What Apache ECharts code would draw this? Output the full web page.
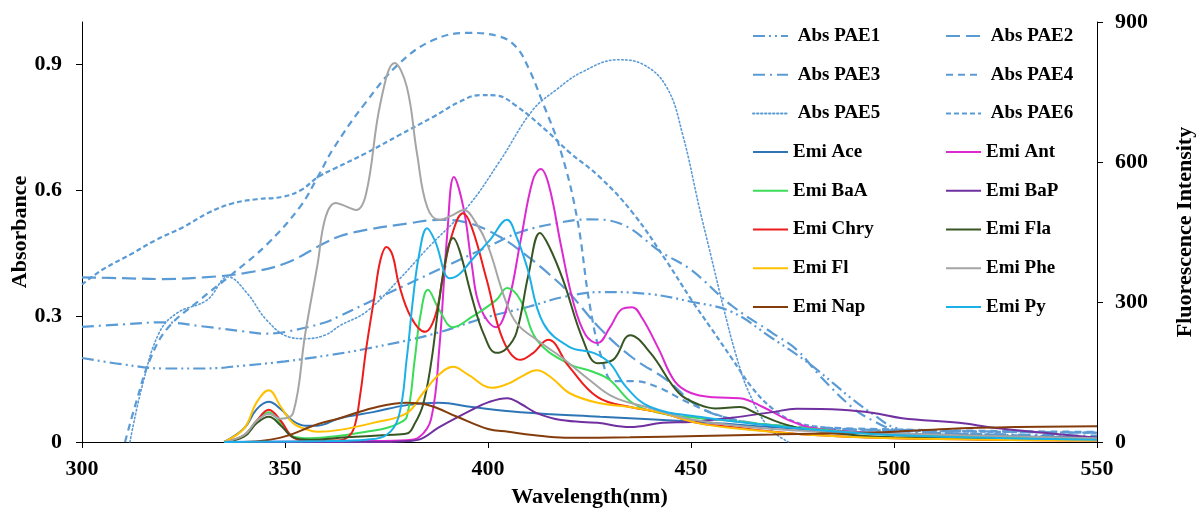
<!DOCTYPE html>
<html>
<head>
<meta charset="utf-8">
<script src="https://cdn.jsdelivr.net/npm/echarts@6/dist/echarts.min.js"></script>
<style>
html, body { margin: 0; padding: 0; background: #fff; }
#chart { width: 1202px; height: 513px; }
</style>
</head>
<body>
<div id="chart"></div>
<script>
// wavelength (nm) / absorbance pairs
var absPAE1 = [[300,0.20],[310,0.185],[320,0.175],[330,0.175],[340,0.182],[350,0.192],[361,0.207],[370,0.222],[385.7,0.255],[400,0.298],[410,0.322],[418.5,0.345],[428,0.357],[440,0.352],[450,0.334],[460,0.31],[470,0.247],[475,0.215],[480,0.18],[485,0.14],[490,0.10],[495,0.065],[500,0.035],[507,0.024],[530,0.016],[550,0.01]];
var absPAE2 = [[300,0.392],[310,0.39],[320,0.388],[330,0.392],[340,0.402],[350,0.425],[360,0.475],[363.5,0.49],[370,0.505],[380,0.52],[388,0.529],[395,0.522],[403,0.488],[410,0.44],[415,0.40],[420,0.355],[427.6,0.27],[435.7,0.20],[444,0.148],[452,0.083],[460,0.055],[470,0.04],[480,0.033],[500,0.028],[550,0.022]];
var absPAE3 = [[300,0.274],[310,0.28],[320,0.285],[330,0.275],[340,0.263],[345,0.258],[350,0.262],[360,0.285],[363.5,0.30],[370,0.33],[380,0.375],[390,0.42],[400,0.465],[408,0.50],[418,0.523],[425,0.53],[432,0.522],[443,0.45],[450,0.41],[460,0.325],[470,0.26],[476,0.22],[482,0.155],[490,0.08],[495,0.05],[500,0.03],[510,0.022],[550,0.015]];
var absPAE4 = [[310.6,0],[313.5,0.1],[316.7,0.195],[321,0.27],[329,0.338],[337,0.40],[345.5,0.47],[353.7,0.56],[358,0.63],[362,0.70],[370,0.81],[378,0.90],[386.5,0.957],[395,0.974],[403,0.965],[407,0.94],[410,0.89],[413,0.82],[418,0.69],[422,0.53],[425,0.33],[428,0.2],[431,0.145],[436,0.145],[442,0.13],[448,0.10],[455,0.07],[462,0.05],[470,0.04],[500,0.03],[550,0.024]];
var absPAE5 = [[311.8,0],[315,0.14],[319,0.26],[323.4,0.307],[330.8,0.338],[336,0.393],[340.6,0.355],[345.5,0.29],[351,0.25],[355,0.246],[360,0.255],[363.5,0.277],[370,0.31],[378,0.386],[385,0.46],[395,0.56],[403,0.67],[411,0.79],[417,0.84],[423,0.88],[432,0.91],[438,0.90],[444,0.845],[448,0.73],[452,0.56],[455,0.44],[458,0.32],[461,0.21],[464,0.124],[469,0.036],[474,0]];
var absPAE6 = [[300,0.375],[305,0.41],[312.6,0.45],[318,0.48],[325,0.512],[331,0.545],[337,0.568],[343,0.578],[349.5,0.584],[354,0.60],[358,0.63],[362,0.65],[370,0.688],[378,0.73],[386.5,0.774],[393,0.81],[398,0.826],[402,0.825],[407,0.80],[415,0.736],[420,0.69],[427.6,0.63],[435.7,0.545],[444,0.43],[450,0.34],[455,0.27],[460,0.20],[465,0.13],[470,0.08],[475,0.05],[480,0.038],[490,0.03],[500,0.027],[550,0.022]];

// wavelength (nm) / fluorescence intensity pairs
var emiAce = [[335,0],[340,30],[343,70],[346,86],[349,70],[352,45],[355,35],[358,35],[363.5,51],[371.7,64],[380,79],[388,84],[396,75],[408,64],[427.6,54],[452,43],[470,32],[490,22],[510,16],[530,12],[550,10]];
var emiAnt = [[335,0],[370,2],[380,4],[383,10],[386,50],[388,200],[390,450],[391.6,568],[394,500],[396,380],[398,290],[402,246],[405,300],[408,430],[411,560],[413,585],[415,550],[418,420],[421,300],[424,230],[427,212],[430,245],[433,285],[435.5,289],[438,265],[442,200],[446,130],[450,105],[455.5,96],[462,94],[467.7,75],[474,47],[480,30],[491,21],[510,12],[550,5]];
var emiBaA = [[335,0],[340,15],[343,45],[346,64],[349,40],[352,12],[356,8],[360,10],[365,15],[370,22],[375,30],[378,40],[380,54],[382,180],[383.3,268],[385.2,326],[388,283],[391.4,246],[396,268],[402,304],[404.7,330],[408,304],[412,219],[419.5,169],[426,150],[430,133],[435.7,83],[442.4,62],[452,51],[460,45],[480,28],[500,15],[550,6]];
var emiBaP = [[335,0],[375,0],[380,2],[383,5],[388,32],[396,69],[400,85],[404.7,94],[408,82],[412,62],[418,47],[427,41],[435,32],[443,41],[450,43],[460,52],[470,64],[476,71],[487,69],[495,62],[502,51],[516,41],[525,30],[538,19],[550,9]];
var emiChry = [[335,0],[340,15],[343,45],[346,69],[349,45],[352,10],[356,3],[362,3],[365,8],[367,30],[368.5,100],[370,200],[372,310],[373.5,390],[375,418],[376.5,400],[378,340],[381,268],[384.5,236],[387,270],[389,360],[391,440],[393.8,490],[396,460],[399.7,347],[403.7,219],[408,176],[411,190],[414.8,219],[420,161],[427,96],[435,75],[443,62],[451.5,41],[460,32],[470,22],[480,15],[500,8],[550,3]];
var emiFla = [[335,0],[340,12],[343,40],[346,54],[349,35],[352,10],[356,5],[365,10],[375,15],[380,18],[382,40],[384,80],[386,170],[388,304],[390,410],[391.4,437],[393,410],[396,311],[399,230],[402,191],[404.5,200],[407,234],[410,360],[412.8,448],[415,420],[418.5,347],[423.4,219],[427,169],[430.8,176],[435,229],[440,191],[447,105],[452,80],[456,72],[462,75],[466,62],[472,41],[478.6,26],[490,15],[500,10],[550,4]];
var emiFl = [[335,0],[340,30],[343,85],[346,111],[349,75],[352,40],[355,28],[358,22],[363.5,26],[371.7,41],[380,62],[384,105],[388,145],[391.4,161],[395,145],[401,116],[405,125],[408,139],[412,154],[416,135],[420,105],[427,84],[435,75],[443,62],[451.5,41],[460,30],[480,15],[500,8],[550,3]];
var emiPhe = [[335,0],[340,15],[343,45],[346,60],[349,50],[352,62],[355,233],[358,380],[360,482],[362.5,512],[365,505],[367.5,497],[370,533],[373.5,726],[377,812],[380,761],[382.5,619],[385,504],[388,476],[391,485],[394,497],[397,470],[400,420],[404,311],[407,255],[412,219],[418,182],[425,133],[431,96],[439,75],[451,47],[470,28],[500,18],[550,8]];
var emiNap = [[340,0],[345,3],[350,12],[358,38],[363.5,51],[371.7,73],[380,84],[385,80],[392.4,54],[400,28],[405,22],[411,15],[419,9],[435,10],[452,13],[470,16],[497,21],[513,28],[530,32],[550,34]];
var emiPy = [[335,0],[360,2],[370,5],[375,15],[378,54],[380,180],[381.5,304],[383,400],[385,458],[387,430],[390.6,351],[393,360],[396,390],[400.5,433],[404.7,476],[407,440],[409.6,375],[413.6,255],[420,204],[426,191],[430,169],[434,118],[440,75],[452,54],[470,35],[490,20],[510,12],[550,5]];

var absNames = ['Abs PAE1', 'Abs PAE2', 'Abs PAE3', 'Abs PAE4', 'Abs PAE5', 'Abs PAE6'];
var absData = [absPAE1, absPAE2, absPAE3, absPAE4, absPAE5, absPAE6];
var absDash = [[12, 4, 2, 4, 2, 4], [14, 6], [12, 5, 2, 5], [7, 5], [1.5, 2.5], [5, 3]];

var emiNames = ['Emi Ace', 'Emi Ant', 'Emi BaA', 'Emi BaP', 'Emi Chry', 'Emi Fla', 'Emi Fl', 'Emi Phe', 'Emi Nap', 'Emi Py'];
var emiData = [emiAce, emiAnt, emiBaA, emiBaP, emiChry, emiFla, emiFl, emiPhe, emiNap, emiPy];
var emiColors = ['#2E75B6', '#DD2AD0', '#3CDC5A', '#7030A0', '#EE1C1C', '#375623', '#FFC000', '#A5A5A5', '#843C0C', '#1CB0E8'];

var font = 'Liberation Serif';

var series = [];
for (var i = 0; i < absNames.length; i++) {
    series.push({
        name: absNames[i],
        type: 'line',
        yAxisIndex: 0,
        data: absData[i],
        smooth: 0.4,
        symbol: 'none',
        lineStyle: {color: '#5B9BD5', width: i == 4 ? 1.6 : 2.2, type: absDash[i], cap: i == 4 ? 'round' : 'butt'},
        itemStyle: {color: '#5B9BD5'},
        z: 2
    });
}
for (var i = 0; i < emiNames.length; i++) {
    series.push({
        name: emiNames[i],
        type: 'line',
        yAxisIndex: 1,
        data: emiData[i],
        smooth: 0.4,
        symbol: 'none',
        lineStyle: {color: emiColors[i], width: 2},
        itemStyle: {color: emiColors[i]},
        z: 3
    });
}

var legendBase = {
    orient: 'vertical',
    top: 21,
    itemWidth: 35,
    itemHeight: 14,
    itemGap: 18.7,
    selectedMode: false,
    itemStyle: {opacity: 0},
    formatter: function (name) {
        return name.indexOf('Abs') == 0 ? ' ' + name : name;
    },
    textStyle: {fontFamily: font, fontWeight: 'bold', fontSize: 19, color: '#000', lineHeight: 20}
};
var legend1 = Object.assign({}, legendBase, {
    left: 747,
    data: ['Abs PAE1', 'Abs PAE3', 'Abs PAE5', 'Emi Ace', 'Emi BaA', 'Emi Chry', 'Emi Fl', 'Emi Nap']
});
var legend2 = Object.assign({}, legendBase, {
    left: 940,
    data: ['Abs PAE2', 'Abs PAE4', 'Abs PAE6', 'Emi Ant', 'Emi BaP', 'Emi Fla', 'Emi Phe', 'Emi Py']
});

var labelStyle = {fontFamily: font, fontWeight: 'bold', fontSize: 22, color: '#000'};
var axisLine = {show: true, lineStyle: {color: '#000', width: 1}};

var option = {
    animation: false,
    backgroundColor: '#fff',
    grid: {left: 82, right: 105, top: 22, bottom: 71, outerBoundsMode: 'none', containLabel: false},
    legend: [legend1, legend2],
    xAxis: {
        type: 'value',
        min: 300,
        max: 550,
        interval: 50,
        axisLine: axisLine,
        axisTick: {show: true, length: 6, lineStyle: {color: '#000'}},
        splitLine: {show: false},
        axisLabel: Object.assign({margin: 16}, labelStyle),
        name: 'Wavelength(nm)',
        nameLocation: 'middle',
        nameGap: 44,
        nameTextStyle: labelStyle
    },
    yAxis: [
        {
            type: 'value',
            min: 0,
            max: 1,
            interval: 0.3,
            axisLine: axisLine,
            axisTick: {show: true, length: 6, lineStyle: {color: '#000'}, customValues: [0, 0.3, 0.6, 0.9]},
            splitLine: {show: false},
            axisLabel: Object.assign({margin: 20, customValues: [0, 0.3, 0.6, 0.9]}, labelStyle),
            name: 'Absorbance',
            nameLocation: 'middle',
            nameRotate: 90,
            nameGap: 51,
            nameMoveOverlap: false,
            nameTextStyle: labelStyle
        },
        {
            type: 'value',
            min: 0,
            max: 900,
            interval: 300,
            position: 'right',
            axisLine: axisLine,
            axisTick: {show: true, length: 6, lineStyle: {color: '#000'}},
            splitLine: {show: false},
            axisLabel: Object.assign({margin: 18}, labelStyle),
            name: 'Fluorescence Intensity',
            nameLocation: 'middle',
            nameRotate: 90,
            nameGap: 77,
            nameTextStyle: labelStyle
        }
    ],
    series: series
};

var myChart = echarts.init(document.getElementById('chart'));
myChart.setOption(option);
</script>
</body>
</html>
